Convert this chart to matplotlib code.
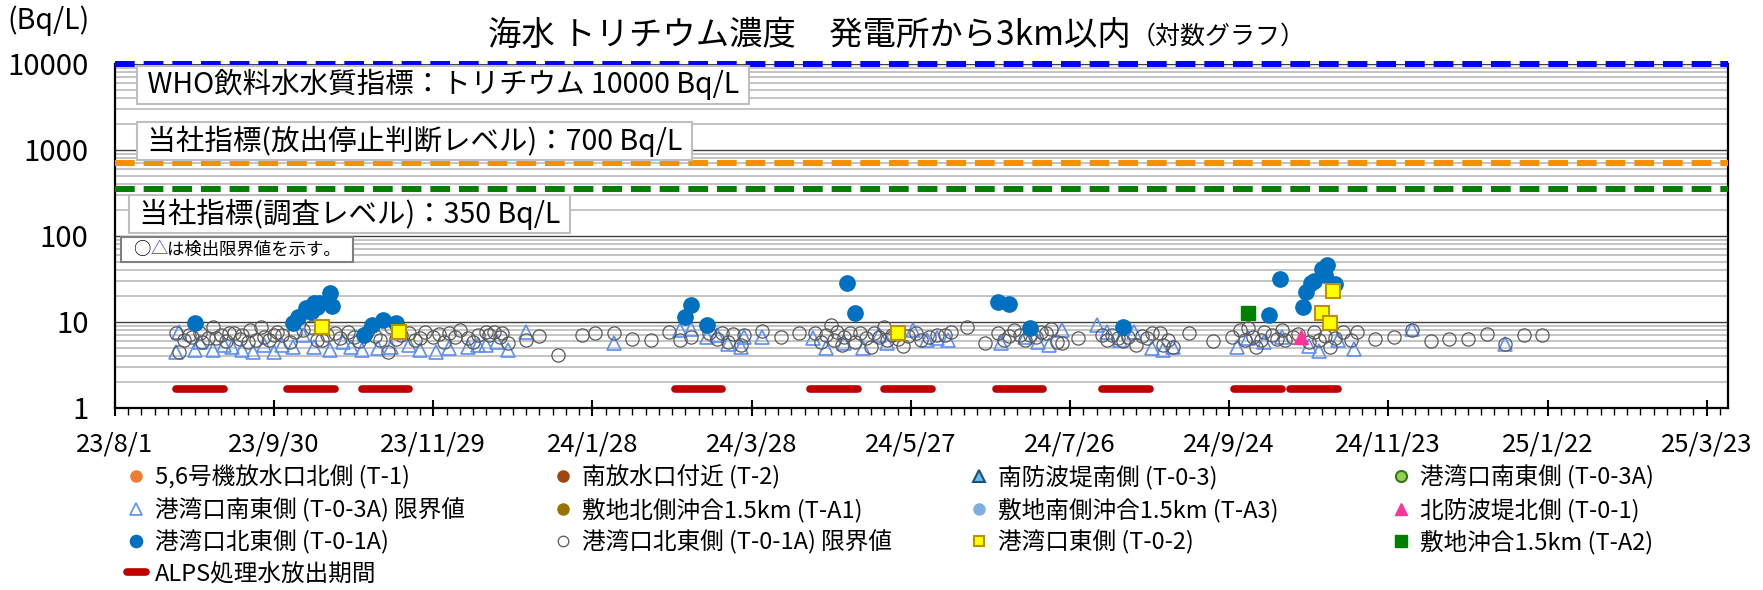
import matplotlib
matplotlib.use("Agg")
import matplotlib.pyplot as plt
import pandas as pd
from matplotlib.patches import Rectangle
from matplotlib.ticker import FixedLocator, NullFormatter, LogLocator

plt.rcParams['font.family'] = ['Noto Sans CJK JP', 'DejaVu Sans']

# ---- データ (日数は 2023/8/1 からの経過日) ----
START = "2023-08-01"
END = "2025-03-31"

# 港湾口北東側 (T-0-1A) 検出値
t01a_day = [30, 67, 69, 72, 74, 75, 76, 77, 81, 82, 94, 97, 101, 106,
            215, 217, 223, 276, 279, 333, 337, 345, 380,
            435, 439, 448, 449, 451, 452, 455, 456, 457, 460]
t01a_val = [9.7, 9.7, 11.4, 14.5, 13.0, 16.6, 15.0, 16.6, 21.7, 15.3, 7.1, 9.2, 10.6, 9.7,
            11.4, 15.8, 9.2, 28.3, 12.7, 17.1, 16.2, 8.5, 8.7,
            12.1, 31.6, 14.9, 22.3, 28.3, 30.0, 41.4, 35.2, 46.0, 27.6]

# 港湾口北東側 (T-0-1A) 限界値
t01a_lim_day = [23, 24, 26, 28, 29, 32, 33, 35, 37, 38, 40, 42, 43, 45, 47, 48, 50, 51, 53, 55,
                56, 58, 60, 61, 63, 66, 68, 71, 74, 76, 78, 80, 83, 85, 88, 90, 92, 95, 98, 100,
                103, 104, 106, 108, 111, 113, 115, 117, 120, 122, 124, 126, 128, 130, 133, 135,
                137, 140, 141, 143, 145, 146, 148, 155, 160, 167, 176, 181, 188, 195, 202, 209,
                213, 217, 224, 227, 229, 231, 233, 236, 237, 244, 251, 258,
                264, 266, 268, 270, 271, 272, 274, 275, 277, 279, 281, 283, 285, 286, 288, 290,
                291, 293, 295, 297, 299, 302, 304, 307, 310, 313, 315, 321, 328,
                333, 335, 337, 339, 341, 343, 345, 347, 349, 351, 353, 355, 357, 363,
                372, 374, 376, 378, 380, 382, 385, 387, 389, 391, 394, 395, 397, 399, 405, 414,
                421, 424, 426, 427, 429, 430, 432, 433, 436, 438, 440, 441, 444, 446, 450, 452,
                454, 456, 458, 460, 463, 466, 468, 475, 482, 489, 496, 503, 510, 517, 524, 531, 538]
t01a_lim_val = [7.4, 4.5, 6.2, 7.0, 6.7, 7.4, 5.8, 6.5, 8.7, 6.5, 7.1, 6.0, 7.4, 7.4, 6.4, 7.1, 5.9, 8.1, 6.2, 8.7,
                6.7, 6.2, 7.0, 7.6, 7.1, 5.9, 7.6, 8.1, 8.7, 6.2, 6.2, 7.0, 7.4, 6.5, 7.6, 6.7, 6.0, 7.6, 6.8, 6.2,
                4.5, 8.7, 6.4, 7.0, 7.4, 6.1, 6.5, 7.6, 6.7, 7.2, 5.9, 7.4, 6.6, 8.1, 6.5, 5.9,
                7.0, 7.6, 7.1, 7.6, 6.7, 7.4, 5.7, 6.2, 6.9, 4.1, 7.0, 7.4, 7.4, 6.3, 6.2, 7.6,
                6.2, 6.7, 7.4, 6.3, 7.4, 5.9, 7.2, 5.4, 7.1, 7.9, 6.7, 7.4,
                7.4, 5.9, 7.1, 9.2, 6.2, 7.6, 5.4, 6.7, 7.4, 5.9, 7.4, 6.5, 5.1, 7.4, 6.7, 8.7,
                6.2, 7.0, 6.4, 5.3, 6.9, 7.4, 6.2, 6.7, 7.1, 7.1, 7.6, 8.7, 5.7,
                7.4, 6.2, 6.9, 8.1, 7.1, 6.2, 7.0, 6.7, 7.6, 7.4, 8.3, 5.9, 5.7, 6.5,
                7.1, 6.2, 7.0, 6.5, 6.0, 6.7, 5.4, 6.9, 6.5, 7.4, 7.4, 5.4, 6.2, 5.1, 7.4, 6.0,
                6.7, 8.1, 6.2, 8.5, 6.7, 5.1, 6.2, 7.6, 7.0, 6.3, 8.1, 6.2, 6.7, 7.2, 5.9, 7.6,
                6.2, 6.8, 5.1, 6.5, 7.6, 6.2, 7.6, 6.3, 6.7, 8.0, 6.0, 6.3, 6.3, 7.2, 5.5, 7.1, 7.0]

# 港湾口南東側 (T-0-3A) 限界値
t03a_lim_day = [23, 24, 30, 32, 37, 41, 44, 48, 52, 56, 60, 63, 67, 71, 75, 81, 86, 89, 93, 99,
                104, 111, 115, 121, 126, 133, 137, 140, 144, 148, 155, 188,
                213, 217, 223, 227, 231, 236, 237, 244,
                263, 268, 275, 282, 288, 291, 301, 306, 310, 314,
                334, 343, 348, 352, 357,
                370, 374, 379, 384, 391, 395, 399,
                423, 427, 433, 440, 450, 454, 461, 467, 489, 524]
t03a_lim_val = [4.5, 7.6, 4.7, 5.9, 4.7, 5.4, 5.1, 4.7, 4.5, 5.4, 4.5, 5.4, 5.1, 7.1, 5.1, 4.7, 5.9, 5.1, 4.7, 5.0,
                5.1, 5.4, 4.7, 4.5, 5.0, 5.1, 5.4, 5.4, 5.9, 4.7, 7.6, 5.7,
                8.1, 8.3, 6.7, 7.1, 5.5, 5.1, 6.7, 6.7,
                6.5, 5.0, 5.7, 5.0, 7.1, 5.7, 8.1, 6.2, 6.5, 6.2,
                5.7, 6.7, 5.9, 5.4, 8.1,
                9.2, 7.6, 6.2, 7.6, 5.0, 4.7, 5.1,
                5.1, 6.5, 5.9, 6.7, 5.3, 4.6, 6.2, 4.8, 8.3, 5.5]

# 港湾口東側 (T-0-2)
t02_day = [78, 107, 295, 455, 458, 459]
t02_val = [8.7, 7.6, 7.4, 12.7, 9.7, 22.9]

# 敷地沖合1.5km (T-A2)
ta2_day = [427]
ta2_val = [12.7]

# 北防波堤北側 (T-0-1)
t01_day = [447]
t01_val = [6.7]

# 凡例のみ (図中に点なし)
empty_day = []
empty_val = []

# ALPS処理水放出期間
alps_start = ["2023-08-24", "2023-10-05", "2023-11-02", "2024-02-28", "2024-04-19",
              "2024-05-17", "2024-06-28", "2024-08-07", "2024-09-26", "2024-10-17"]
alps_end = ["2023-09-11", "2023-10-23", "2023-11-20", "2024-03-17", "2024-05-07",
            "2024-06-04", "2024-07-16", "2024-08-25", "2024-10-14", "2024-11-04"]
alps_level = 1.65

# 指標
who_level = 10000
stop_level = 700
survey_level = 350

tick_dates = ["2023-08-01", "2023-09-30", "2023-11-29", "2024-01-28", "2024-03-28", "2024-05-27",
              "2024-07-26", "2024-09-24", "2024-11-23", "2025-01-22", "2025-03-23"]
tick_labels = ["23/8/1", "23/9/30", "23/11/29", "24/1/28", "24/3/28", "24/5/27",
               "24/7/26", "24/9/24", "24/11/23", "25/1/22", "25/3/23"]
y_ticks = [1, 10, 100, 1000, 10000]
y_labels = ["1", "10", "100", "1000", "10000"]


def to_dates(days):
    return pd.Timestamp(START) + pd.to_timedelta(days, unit="D")


fig = plt.figure(figsize=(17.63, 5.90), dpi=100)
ax = fig.add_axes([0.0652, 0.3085, 0.9149, 0.5831])
ax.set_yscale("log")
ax.set_ylim(1, 10000)
ax.set_xlim(pd.Timestamp(START), pd.Timestamp(END))

# グリッド
ax.yaxis.set_minor_locator(LogLocator(base=10, subs=range(2, 10)))
ax.yaxis.set_minor_formatter(NullFormatter())
ax.grid(which="minor", axis="y", color="#BFBFBF", lw=1.3)
ax.grid(which="major", axis="y", color="#404040", lw=1.0)
ax.set_axisbelow(True)

# 指標線
dash = (0, (3.3, 1.5))
ax.axhline(who_level, color="#0000FF", lw=4.3, ls=dash, clip_on=False, zorder=4)
ax.axhline(stop_level, color="#F39200", lw=4.3, ls=dash, zorder=4)
ax.axhline(survey_level, color="#008000", lw=4.3, ls=dash, zorder=4)

# 系列
h_t1, = ax.plot(to_dates(empty_day), empty_val, "o", ms=10, color="#ED7D31", ls="none",
                label="5,6号機放水口北側 (T-1)")
h_t2, = ax.plot(to_dates(empty_day), empty_val, "o", ms=10, color="#9E480E", ls="none",
                label="南放水口付近 (T-2)")
h_t03, = ax.plot(to_dates(empty_day), empty_val, "^", ms=10, mfc="#5BC0EB", mec="#1F4E79",
                 mew=1.5, ls="none", label="南防波堤南側 (T-0-3)")
h_t03a, = ax.plot(to_dates(empty_day), empty_val, "o", ms=10, mfc="#92D050", mec="#38761D",
                  mew=1.5, ls="none", label="港湾口南東側 (T-0-3A)")
h_ta1, = ax.plot(to_dates(empty_day), empty_val, "o", ms=10, color="#997300", ls="none",
                 label="敷地北側沖合1.5km (T-A1)")
h_ta3, = ax.plot(to_dates(empty_day), empty_val, "o", ms=10, color="#7FAEDF", ls="none",
                 label="敷地南側沖合1.5km (T-A3)")

h_t03a_lim, = ax.plot(to_dates(t03a_lim_day), t03a_lim_val, "^", ms=10, mfc="none",
                      mec="#5B8FF5", mew=1.2, ls="none", zorder=3,
                      label="港湾口南東側 (T-0-3A) 限界値")
h_t01a_lim, = ax.plot(to_dates(t01a_lim_day), t01a_lim_val, "o", ms=9.5, mfc="none",
                      mec="#595959", mew=0.9, ls="none", zorder=3,
                      label="港湾口北東側 (T-0-1A) 限界値")
h_t01a, = ax.plot(to_dates(t01a_day), t01a_val, "o", ms=11, color="#0070C0", ls="none",
                  zorder=5, label="港湾口北東側 (T-0-1A)")
h_t02, = ax.plot(to_dates(t02_day), t02_val, "s", ms=9.5, mfc="#FFFF00", mec="#BF9000",
                 mew=1.5, ls="none", zorder=6, label="港湾口東側 (T-0-2)")
h_ta2, = ax.plot(to_dates(ta2_day), ta2_val, "s", ms=10, color="#008000", ls="none",
                 zorder=6, label="敷地沖合1.5km (T-A2)")
h_t01, = ax.plot(to_dates(t01_day), t01_val, "^", ms=10, color="#FF3399", ls="none",
                 zorder=6, label="北防波堤北側 (T-0-1)")

for i, (s, e) in enumerate(zip(alps_start, alps_end)):
    ln, = ax.plot([pd.Timestamp(s), pd.Timestamp(e)], [alps_level, alps_level],
                  color="#C00000", lw=5.5, solid_capstyle="round", zorder=4)
    if i == 0:
        h_alps = ln
h_alps.set_label("ALPS処理水放出期間")

# 軸
for side in ["left", "bottom", "right"]:
    ax.spines[side].set_color("black")
    ax.spines[side].set_linewidth(1.6)
ax.spines["top"].set_visible(False)

ax.set_yticks(y_ticks)
ax.set_yticklabels(y_labels)
ax.tick_params(axis="y", which="both", length=0, pad=19, labelsize=21)

ax.xaxis.set_major_locator(FixedLocator(
    [matplotlib.dates.date2num(pd.Timestamp(d)) for d in tick_dates]))
ax.xaxis.set_minor_locator(FixedLocator(
    [matplotlib.dates.date2num(d) for d in pd.date_range(START, END, freq="5D")]))
ax.set_xticklabels(tick_labels)
ax.xaxis.set_minor_formatter(NullFormatter())
ax.tick_params(axis="x", which="major", direction="inout", length=12, width=1.5,
               pad=11, labelsize=18.5)
ax.tick_params(axis="x", which="minor", direction="out", length=5, width=1.0)

# 指標のテキストボックス
box = dict(boxstyle="square,pad=0.12", fc="white", ec="#BFBFBF", lw=1.5)
ax.text(0.016, 0.94, " WHO飲料水水質指標：トリチウム 10000 Bq/L ", transform=ax.transAxes,
        fontsize=20.5, va="center", ha="left", bbox=box, zorder=7)
ax.text(0.016, 0.776, " 当社指標(放出停止判断レベル)：700 Bq/L ", transform=ax.transAxes,
        fontsize=20.5, va="center", ha="left", bbox=box, zorder=7)
ax.text(0.011, 0.564, " 当社指標(調査レベル)：350 Bq/L ", transform=ax.transAxes,
        fontsize=20.5, va="center", ha="left", bbox=box, zorder=7)

# 検出限界値の注記 (枠 + 3つの文字列)
ax.add_patch(Rectangle((0.0037, 0.424), 0.144, 0.073, transform=ax.transAxes,
                       fc="white", ec="#7F7F7F", lw=1.5, zorder=7))
note_fs = 12.5
n1 = ax.text(0.011, 0.4605, "○", transform=ax.transAxes, fontsize=note_fs,
             va="center", ha="left", zorder=8)
n2 = ax.annotate("△", xy=(1, 0), xycoords=n1, fontsize=note_fs, color="#3333FF",
                 va="bottom", ha="left", zorder=8)
ax.annotate("は検出限界値を示す。", xy=(1, 0), xycoords=n2, fontsize=note_fs,
            va="bottom", ha="left", zorder=8)

# タイトル
title = fig.text(0.277, 0.94, "海水 トリチウム濃度　発電所から3km以内", fontsize=24,
                 va="center", ha="left")
ax.annotate("（対数グラフ）", xy=(1, 0.1), xycoords=title, fontsize=18,
            va="bottom", ha="left")
fig.text(0.004, 0.964, "(Bq/L)", fontsize=20.5, va="center", ha="left")

# 凡例 (4列)
columns = [
    [h_t1, h_t03a_lim, h_t01a, h_alps],
    [h_t2, h_ta1, h_t01a_lim],
    [h_t03, h_ta3, h_t02],
    [h_t03a, h_t01, h_ta2],
]
col_x = [127, 554, 970, 1392]
for hs, x in zip(columns, col_x):
    fig.legend(handles=hs, labels=[h.get_label() for h in hs], loc="upper left",
               bbox_to_anchor=(x / 1763, 1 - 465 / 590), frameon=False, fontsize=17,
               markerscale=0.8, handlelength=0.8, handletextpad=0.4, borderpad=0,
               borderaxespad=0, labelspacing=0.34)

fig.savefig("out.png", dpi=100)
